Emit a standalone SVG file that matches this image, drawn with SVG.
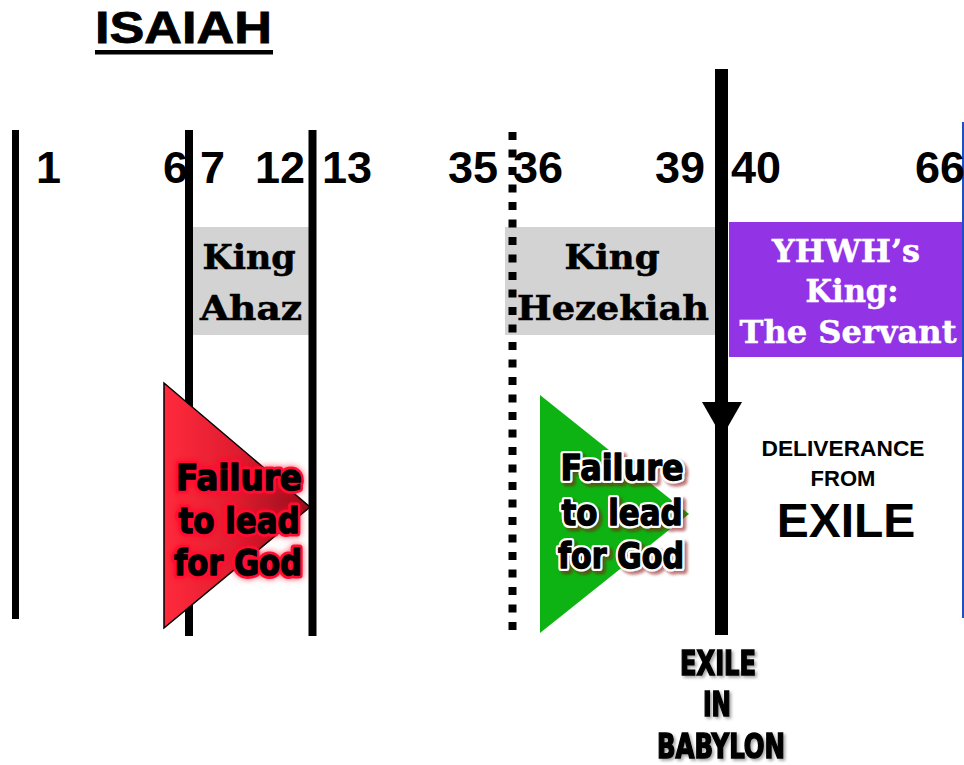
<svg xmlns="http://www.w3.org/2000/svg" width="964" height="765" viewBox="0 0 964 765">
<defs>
<style>
.num{font-family:"Liberation Sans",Arial,sans-serif;font-weight:bold;font-size:45px;fill:#000}
.king{font-family:"DejaVu Serif",serif;font-weight:bold;font-size:33px;fill:#000;stroke:#000;stroke-width:0.6;text-anchor:middle}
.kingw{font-family:"DejaVu Serif",serif;font-weight:bold;font-size:32px;fill:#fff;stroke:#fff;stroke-width:0.5;text-anchor:middle}
.fail{font-family:"DejaVu Sans",sans-serif;font-stretch:condensed;font-weight:bold;font-size:36px;text-anchor:middle;stroke-linejoin:round}
.redout{fill:#ff1030;stroke:#ff1030;stroke-width:7}
.greenout{fill:#fff;stroke:#fff;stroke-width:6}
.inner{fill:#000;stroke:#000;stroke-width:1.3}
.ex{font-family:"DejaVu Sans",sans-serif;font-stretch:condensed;font-weight:bold;font-size:34px;fill:#000;stroke:#000;stroke-width:1.5;text-anchor:middle}
.arial{font-family:"Liberation Sans",Arial,sans-serif;font-weight:bold;fill:#000;text-anchor:middle}
.bar{stroke:#000;fill:none}
</style>
<linearGradient id="redg" x1="0" y1="0" x2="1" y2="0">
<stop offset="0" stop-color="#ff2a3c"/>
<stop offset="0.5" stop-color="#e01c30"/>
<stop offset="1" stop-color="#8e0c1a"/>
</linearGradient>
<filter id="redglow" x="-20%" y="-20%" width="140%" height="140%">
<feGaussianBlur in="SourceAlpha" stdDeviation="3" result="b"/>
<feFlood flood-color="#ff0020" flood-opacity="0.7"/>
<feComposite in2="b" operator="in" result="g"/>
<feMerge><feMergeNode in="g"/><feMergeNode in="SourceGraphic"/></feMerge>
</filter>
<filter id="greenshadow" x="-20%" y="-20%" width="140%" height="140%">
<feGaussianBlur in="SourceAlpha" stdDeviation="1.5" result="b"/>
<feOffset in="b" dx="3" dy="3" result="o"/>
<feFlood flood-color="#8a1010" flood-opacity="0.6"/>
<feComposite in2="o" operator="in" result="s"/>
<feMerge><feMergeNode in="s"/><feMergeNode in="SourceGraphic"/></feMerge>
</filter>
<filter id="tshadow" x="-20%" y="-20%" width="140%" height="140%">
<feGaussianBlur in="SourceAlpha" stdDeviation="1.5" result="b"/>
<feOffset in="b" dx="2" dy="2" result="o"/>
<feFlood flood-color="#000" flood-opacity="0.35"/>
<feComposite in2="o" operator="in" result="s"/>
<feMerge><feMergeNode in="s"/><feMergeNode in="SourceGraphic"/></feMerge>
</filter>
</defs>
<rect width="964" height="765" fill="#fff"/>

<g id="title">
<text x="95" y="43" font-family="Liberation Sans,Arial,sans-serif" font-weight="bold" font-size="44" stroke="#000" stroke-width="0.8" textLength="177" lengthAdjust="spacingAndGlyphs">ISAIAH</text>
<rect x="95" y="50" width="178" height="4.5" fill="#000"/>
</g>

<g id="boxes">
<g id="king-ahaz">
<rect x="190" y="227" width="125" height="108" fill="#d3d3d3"/>
<text class="king" x="249" y="269" textLength="93" lengthAdjust="spacingAndGlyphs">King</text>
<text class="king" x="251" y="320" textLength="102" lengthAdjust="spacingAndGlyphs">Ahaz</text>
</g>
<g id="king-hezekiah">
<rect x="505" y="227" width="217" height="108" fill="#d3d3d3"/>
<text class="king" x="612" y="269" textLength="95" lengthAdjust="spacingAndGlyphs">King</text>
<text class="king" x="613" y="320" textLength="192" lengthAdjust="spacingAndGlyphs">Hezekiah</text>
</g>
<g id="yhwh-king">
<rect x="729" y="222" width="235" height="135" fill="#9234e6"/>
<text class="kingw" x="846" y="262" textLength="148" lengthAdjust="spacingAndGlyphs">YHWH’s</text>
<text class="kingw" x="852" y="302" textLength="93" lengthAdjust="spacingAndGlyphs">King:</text>
<text class="kingw" x="848" y="343" textLength="217" lengthAdjust="spacingAndGlyphs">The Servant</text>
</g>
</g>

<g id="connectors">
<line class="bar" x1="15.5" y1="130" x2="15.5" y2="619" stroke-width="7"/>
<line class="bar" x1="189" y1="130" x2="189" y2="636" stroke-width="8"/>
<line class="bar" x1="312.5" y1="130" x2="312.5" y2="636" stroke-width="8"/>
<line class="bar" x1="512.5" y1="132" x2="512.5" y2="630" stroke-width="8" stroke-dasharray="8 9.5"/>
<line x1="963" y1="122" x2="963" y2="618" stroke="#1f4fc0" stroke-width="2"/>
<line class="bar" x1="721.5" y1="69" x2="721.5" y2="635" stroke-width="13"/>
<polygon points="702,402 742,402 722,437" fill="#000"/>
</g>

<g id="numbers">
<text class="num" x="36" y="183">1</text>
<text class="num" x="163" y="183">6</text>
<text class="num" x="200" y="183">7</text>
<text class="num" x="255" y="183">12</text>
<text class="num" x="322" y="183">13</text>
<text class="num" x="448" y="183">35</text>
<text class="num" x="513" y="183">36</text>
<text class="num" x="655" y="183">39</text>
<text class="num" x="731" y="183">40</text>
<text class="num" x="915" y="183">66</text>
</g>

<g id="red-failure">
<polygon points="164,383 310,507 164,628" fill="url(#redg)" stroke="#000" stroke-width="1.5"/>
<g filter="url(#redglow)">
<text class="fail redout" x="239" y="490" textLength="126" lengthAdjust="spacingAndGlyphs">Failure</text>
<text class="fail redout" x="239" y="533" textLength="121" lengthAdjust="spacingAndGlyphs">to lead</text>
<text class="fail redout" x="238" y="575" textLength="128" lengthAdjust="spacingAndGlyphs">for God</text>
</g>
<text class="fail inner" x="239" y="490" textLength="126" lengthAdjust="spacingAndGlyphs">Failure</text>
<text class="fail inner" x="239" y="533" textLength="121" lengthAdjust="spacingAndGlyphs">to lead</text>
<text class="fail inner" x="238" y="575" textLength="128" lengthAdjust="spacingAndGlyphs">for God</text>
</g>

<g id="green-failure">
<polygon points="540,395 689,514 540,633" fill="#0db312"/>
<g filter="url(#greenshadow)">
<text class="fail greenout" x="622" y="480" textLength="123" lengthAdjust="spacingAndGlyphs">Failure</text>
<text class="fail greenout" x="622" y="525" textLength="121" lengthAdjust="spacingAndGlyphs">to lead</text>
<text class="fail greenout" x="621" y="568" textLength="126" lengthAdjust="spacingAndGlyphs">for God</text>
</g>
<text class="fail inner" x="622" y="480" textLength="123" lengthAdjust="spacingAndGlyphs">Failure</text>
<text class="fail inner" x="622" y="525" textLength="121" lengthAdjust="spacingAndGlyphs">to lead</text>
<text class="fail inner" x="621" y="568" textLength="126" lengthAdjust="spacingAndGlyphs">for God</text>
</g>

<g id="deliverance">
<text class="arial" x="843" y="456" font-size="22" textLength="163" lengthAdjust="spacingAndGlyphs">DELIVERANCE</text>
<text class="arial" x="843" y="486" font-size="22">FROM</text>
<text class="arial" x="846" y="537" font-size="48">EXILE</text>
</g>

<g id="exile-babylon" filter="url(#tshadow)">
<text class="ex" x="718" y="675" textLength="76" lengthAdjust="spacingAndGlyphs">EXILE</text>
<text class="ex" x="717" y="716" textLength="28" lengthAdjust="spacingAndGlyphs">IN</text>
<text class="ex" x="721" y="758" textLength="128" lengthAdjust="spacingAndGlyphs">BABYLON</text>
</g>
</svg>
